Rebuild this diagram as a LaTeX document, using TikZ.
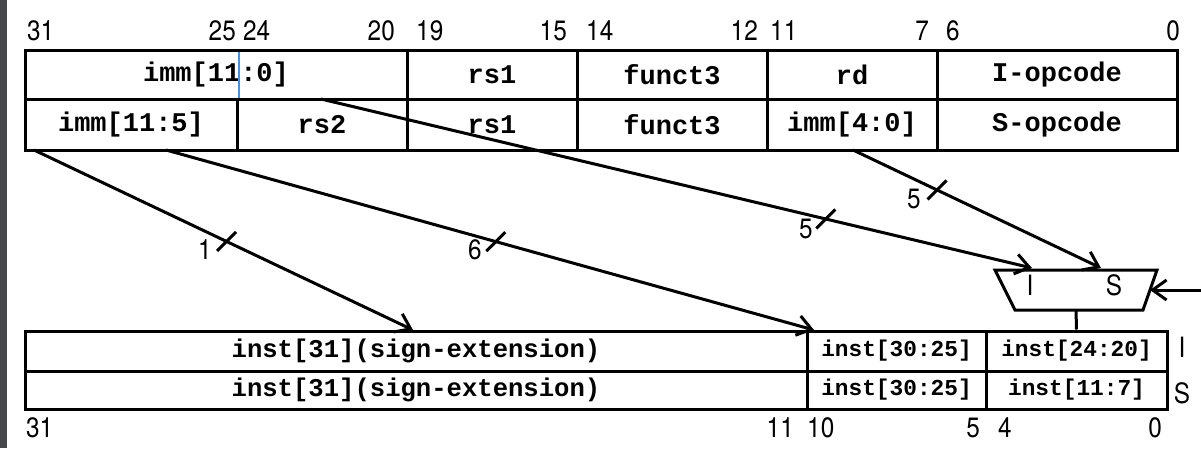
\documentclass[tikz,border=0pt]{standalone}
\usepackage{fontspec}
\setmainfont{TeX Gyre Heros}
\newfontfamily\hvn[FakeStretch=0.87]{TeX Gyre Heros}
\newfontfamily\mono{Liberation Mono}
\usetikzlibrary{arrows.meta,calc}
\definecolor{stripgray}{HTML}{45474A}
\definecolor{cursorblue}{HTML}{4A8FDC}
\begin{document}
\begin{tikzpicture}[x=1pt,y=-1pt,
  cellbig/.style={draw, line width=3pt, inner sep=0pt, font=\mono\bfseries\fontsize{27}{30}\selectfont},
  cellsign/.style={draw, line width=3pt, inner sep=0pt, font=\mono\bfseries\fontsize{25.6}{28}\selectfont},
  cellsmall/.style={draw, line width=3pt, inner sep=0pt, font=\mono\bfseries\fontsize{22.8}{26}\selectfont},
  num/.style={inner sep=0pt, font=\hvn\fontsize{28}{30}\selectfont},
  conn/.style={line width=3pt, -{Straight Barb[length=14pt,width=20pt,line width=3pt]}},
  plain/.style={line width=3pt, line join=miter},
  tickm/.style={line width=3pt}
]
\useasboundingbox (0,0) rectangle (1201,448);
\fill[white] (0,0) rectangle (1201,448);
\fill[stripgray] (0,0) rectangle (7,448);

% top bit numbers
\node[num, anchor=west] (t31) at (27,31) {31};
\node[num, anchor=east] (t25) at (236,31) {25};
\node[num, anchor=west] (t24) at (243,31) {24};
\node[num, anchor=east] (t20) at (395,31) {20};
\node[num, anchor=west] (t19) at (416,31) {19};
\node[num, anchor=east] (t15) at (567,31) {15};
\node[num, anchor=west] (t14) at (586,31) {14};
\node[num, anchor=east] (t12) at (758,31) {12};
\node[num, anchor=west] (t11) at (770,31) {11};
\node[num, anchor=east] (t7) at (929,31) {7};
\node[num, anchor=west] (t6) at (946,31) {6};
\node[num, anchor=east] (t0) at (1180,31) {0};

% I-type row
\node[cellbig, minimum width=382pt, minimum height=49pt] (immI) at (216,74.5) {imm[11:0]};
\node[cellbig, minimum width=170pt, minimum height=49pt] (rs1I) at (492,74.5) {rs1};
\node[cellbig, minimum width=190pt, minimum height=49pt] (f3I) at (672,74.5) {funct3};
\node[cellbig, minimum width=170pt, minimum height=49pt] (rdI) at (852,74.5) {rd};
\node[cellbig, minimum width=240pt, minimum height=49pt] (opI) at (1057,74.5) {I-opcode};
% S-type row
\node[cellbig, minimum width=212pt, minimum height=51pt] (immS) at (131,124.5) {imm[11:5]};
\node[cellbig, minimum width=170pt, minimum height=51pt] (rs2S) at (322,124.5) {rs2};
\node[cellbig, minimum width=170pt, minimum height=51pt] (rs1S) at (492,124.5) {rs1};
\node[cellbig, minimum width=190pt, minimum height=51pt] (f3S) at (672,124.5) {funct3};
\node[cellbig, minimum width=170pt, minimum height=51pt] (imm40) at (852,124.5) {imm[4:0]};
\node[cellbig, minimum width=240pt, minimum height=51pt] (opS) at (1057,124.5) {S-opcode};

% cursor mark
\draw[cursorblue, line width=1.3pt] (239,51.5) -- (239,97.5);

% immediate rows
\node[cellsign, minimum width=782pt, minimum height=40pt] (signI) at (416,351) {inst[31](sign-extension)};
\node[cellsmall, minimum width=179pt, minimum height=40pt] (hiI) at (896.5,351) {inst[30:25]};
\node[cellsmall, minimum width=181pt, minimum height=40pt] (loI) at (1076.5,351) {inst[24:20]};
\node[cellsign, minimum width=782pt, minimum height=38pt] (signS) at (416,390) {inst[31](sign-extension)};
\node[cellsmall, minimum width=179pt, minimum height=38pt] (hiS) at (896.5,390) {inst[30:25]};
\node[cellsmall, minimum width=181pt, minimum height=38pt] (loS) at (1076.5,390) {inst[11:7]};

\node[num] (rowI) at (1182,347) {I};
\node[num] (rowS) at (1182,393) {S};

% bottom bit numbers
\node[num, anchor=west] (b31) at (26,428) {31};
\node[num, anchor=east] (b11) at (794,428) {11};
\node[num, anchor=west] (b10) at (807,428) {10};
\node[num, anchor=east] (b5) at (980,428) {5};
\node[num, anchor=west] (b4) at (998,428) {4};
\node[num, anchor=east] (b0) at (1162,428) {0};

% mux (trapezoid drawn directly)
\draw[plain] (995,270) -- (1157,270) -- (1143,310) -- (1015,310) -- cycle;
\coordinate (muxE) at (1150,290);
\coordinate (muxout) at (1076,310);
\node[num] (muxI) at (1030,285) {I};
\node[num] (muxS) at (1114,285) {S};
\coordinate (sel) at (1201,290);
\draw[conn] (sel) -- (muxE);
\draw[plain] (muxout) -- (loI.north);

% start points / end points
\coordinate (s1) at (34,150);
\coordinate (s2) at (166,150);
\coordinate (s3) at (321,99);
\coordinate (s4) at (853,150);
\coordinate (e1) at (413,330);
\coordinate (e2) at (814,330);
\coordinate (e3) at (1032,268);
\coordinate (e4) at (1101,268);

\draw[conn] (s1) -- (e1);
\draw[conn] (s2) -- (e2);
\draw[conn] (s3) -- (e3);
\draw[conn] (s4) -- (e4);

% width ticks
\draw[tickm] ($(s1)!0.508!(e1)$) +(-9.5,9.5) -- +(9.5,-9.5);
\draw[tickm] ($(s2)!0.509!(e2)$) +(-9.5,9.5) -- +(9.5,-9.5);
\draw[tickm] ($(s3)!0.710!(e3)$) +(-9.5,9.5) -- +(9.5,-9.5);
\draw[tickm] ($(s4)!0.339!(e4)$) +(-9.5,9.5) -- +(9.5,-9.5);

\node[num] (w1) at (205,250) {1};
\node[num] (w6) at (475,250) {6};
\node[num] (w5a) at (806,229) {5};
\node[num] (w5b) at (914,199) {5};
\end{tikzpicture}
\end{document}
